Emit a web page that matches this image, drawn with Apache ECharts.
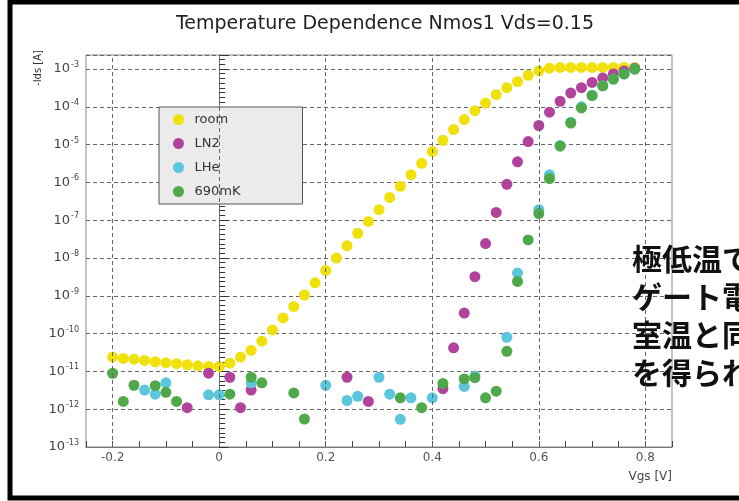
<!DOCTYPE html>
<html>
<head>
<meta charset="utf-8">
<title>Temperature Dependence Nmos1</title>
<script src="https://cdn.jsdelivr.net/npm/echarts@6/dist/echarts.min.js"></script>
<style>
html,body{margin:0;padding:0;background:#fff;}
#main{width:739px;height:501px;}
</style>
</head>
<body>
<div id="main"></div>
<script>
// Vgs [V] / -Ids [A] 読み取り値
var roomVgs = [-0.2,-0.18,-0.16,-0.14,-0.12,-0.1,-0.08,-0.06,-0.04,-0.02,0,0.02,0.04,0.06,0.08,0.1,0.12,0.14,0.16,0.18,
	0.2,0.22,0.24,0.26,0.28,0.3,0.32,0.34,0.36,0.38,0.4,0.42,0.44,0.46,0.48,0.5,0.52,0.54,0.56,0.58,
	0.6,0.62,0.64,0.66,0.68,0.7,0.72,0.74,0.76,0.78];
var roomIds = [2.4e-11,2.2e-11,2.1e-11,1.95e-11,1.8e-11,1.7e-11,1.6e-11,1.5e-11,1.4e-11,1.35e-11,1.35e-11,1.65e-11,2.4e-11,3.6e-11,6.3e-11,1.25e-10,2.6e-10,5.2e-10,1.05e-9,2.2e-9,
	4.7e-9,1.0e-8,2.1e-8,4.5e-8,9.3e-8,1.9e-7,4.0e-7,7.9e-7,1.6e-6,3.2e-6,6.6e-6,1.3e-5,2.5e-5,4.6e-5,7.9e-5,1.26e-4,2.1e-4,3.2e-4,4.6e-4,6.8e-4,
	8.9e-4,1.05e-3,1.1e-3,1.1e-3,1.1e-3,1.1e-3,1.1e-3,1.1e-3,1.1e-3,1.1e-3];

var ln2Vgs = [-0.06,-0.02,0.02,0.04,0.06,0.24,0.28,0.42,0.44,0.46,0.48,0.5,0.52,0.54,0.56,0.58,0.6,0.62,0.64,0.66,0.68,0.7,0.72,0.74,0.76,0.78];
var ln2Ids = [1.1e-12,9e-12,7e-12,1.1e-12,3.2e-12,7e-12,1.6e-12,3.5e-12,4.2e-11,3.5e-10,3.2e-9,2.4e-8,1.6e-7,8.9e-7,3.5e-6,1.2e-5,3.2e-5,7.2e-5,1.4e-4,2.3e-4,3.2e-4,4.4e-4,5.8e-4,7.4e-4,8.9e-4,1.05e-3];

var lheVgs = [-0.14,-0.12,-0.1,-0.02,0,0.06,0.2,0.24,0.26,0.3,0.32,0.34,0.36,0.4,0.46,0.48,0.54,0.56,0.6,0.62,0.64,0.66,0.68,0.7,0.72,0.74,0.76,0.78];
var lheIds = [3.2e-12,2.5e-12,5e-12,2.4e-12,2.4e-12,5e-12,4.3e-12,1.7e-12,2.2e-12,7e-12,2.5e-12,5.4e-13,2e-12,2e-12,4e-12,7.6e-12,8e-11,4e-9,1.9e-7,1.6e-6,9.5e-6,3.9e-5,1e-4,2e-4,3.6e-4,5.4e-4,7.4e-4,1e-3];

var mkVgs = [-0.2,-0.18,-0.16,-0.12,-0.1,-0.08,0.02,0.06,0.08,0.14,0.16,0.34,0.38,0.42,0.46,0.48,0.5,0.52,0.54,0.56,0.58,0.6,0.62,0.64,0.66,0.68,0.7,0.72,0.74,0.76,0.78];
var mkIds = [8.9e-12,1.6e-12,4.3e-12,4.2e-12,2.8e-12,1.6e-12,2.5e-12,7e-12,5e-12,2.7e-12,5.5e-13,2e-12,1.1e-12,4.8e-12,6.3e-12,6.8e-12,2e-12,3e-12,3.4e-11,2.4e-9,3e-8,1.5e-7,1.26e-6,9.1e-6,3.7e-5,9.3e-5,2e-4,3.6e-4,5.4e-4,7.4e-4,1e-3];

var xTicks = [-0.2, 0, 0.2, 0.4, 0.6, 0.8];
var seriesNames = ['room', 'LN2', 'LHe', '690mK'];
var colors = ['#f0e10c', '#b2439c', '#5cc6dc', '#4fa84a'];
var noteLines = ['極低温で', 'ゲート電', '室温と同', 'を得られ'];

// 縦軸は log10(Ids) で描く
function pairs(xs, ys) {
	var out = [];
	for (var i = 0; i < xs.length; i++) {
		out.push([xs[i], Math.log(ys[i]) / Math.LN10]);
	}
	return out;
}

function makeScatter(idx, xs, ys) {
	return {
		name: seriesNames[idx],
		type: 'scatter',
		symbol: 'circle',
		symbolSize: 11,
		z: 3,
		itemStyle: { color: colors[idx], opacity: 1 },
		data: pairs(xs, ys)
	};
}

var gridDash = { color: '#666', width: 1, type: [4, 3] };

var noteGraphics = [];
for (var n = 0; n < noteLines.length; n++) {
	noteGraphics.push({
		type: 'text',
		left: 632,
		top: 244 + n * 38,
		style: {
			text: noteLines[n],
			font: 'bold 30px "Noto Sans CJK JP"',
			fill: '#111'
		},
		z: 10
	});
}

var option = {
	animation: false,
	title: {
		text: 'Temperature Dependence Nmos1 Vds=0.15',
		left: 380,
		top: 10,
		textAlign: 'center',
		textStyle: { fontFamily: 'DejaVu Sans', fontSize: 19, fontWeight: 'normal', color: '#222' }
	},
	legend: {
		data: seriesNames,
		orient: 'vertical',
		left: 159,
		top: 107,
		itemWidth: 22,
		itemHeight: 11,
		itemGap: 11,
		padding: [6, 62, 6, 14],
		backgroundColor: '#ebebeb',
		borderColor: '#555',
		borderWidth: 1,
		borderRadius: 0,
		textStyle: { fontFamily: 'DejaVu Sans', fontSize: 13, color: '#333' }
	},
	grid: {
		left: 86, right: 67, top: 55, bottom: 54,
		show: true, borderColor: '#888', borderWidth: 1
	},
	xAxis: {
		type: 'value',
		min: -0.25, max: 0.85, interval: 0.05,
		axisLine: { lineStyle: { color: '#777' } },
		axisTick: { inside: true, length: 6, lineStyle: { color: '#444' } },
		splitLine: { show: false },
		axisLabel: {
			margin: 5,
			fontFamily: 'DejaVu Sans', fontSize: 12, color: '#555',
			formatter: function(v) {
				for (var i = 0; i < xTicks.length; i++) {
					if (Math.abs(v - xTicks[i]) < 1e-6) return String(xTicks[i]);
				}
				return '';
			}
		}
	},
	yAxis: {
		type: 'value',
		min: -13, max: -2.63, interval: 1,
		axisLine: { show: true, lineStyle: { color: '#777' } },
		axisTick: { show: true, inside: true, length: 9, lineStyle: { color: '#333' } },
		minorTick: { show: true, inside: true, splitNumber: 8, length: 6, lineStyle: { color: '#333', width: 1 } },
		splitLine: { show: true, lineStyle: gridDash },
		axisLabel: {
			margin: 7,
			color: '#444',
			showMaxLabel: false,
			formatter: function(v) {
				if (Math.abs(v - Math.round(v)) > 1e-6) return '';
				return '{b|10}{s|' + Math.round(v) + '}';
			},
			rich: {
				b: { fontFamily: 'DejaVu Sans', fontSize: 13, color: '#444' },
				s: { fontFamily: 'DejaVu Sans', fontSize: 8, color: '#444', verticalAlign: 'top', padding: [0, 0, 8, 1] }
			}
		}
	},
	graphic: [
		{ type: 'rect', shape: { x: 10, y: 2, width: 800, height: 496 }, style: { fill: 'none', stroke: '#000', lineWidth: 5 }, z: 20 },
		{ type: 'text', x: 38, y: 68, rotation: Math.PI / 2, style: { text: '-Ids [A]', font: '10px "DejaVu Sans"', fill: '#333', align: 'center', verticalAlign: 'middle' } },
		{ type: 'text', x: 672, y: 477, style: { text: 'Vgs [V]', font: '12px "DejaVu Sans"', fill: '#444', align: 'right', verticalAlign: 'middle' } }
	].concat(noteGraphics),
	series: [
		{
			type: 'scatter', data: [], z: 1, silent: true,
			markLine: {
				silent: true, symbol: ['none', 'none'], label: { show: false },
				lineStyle: gridDash,
				data: xTicks.map(function(v) { return { xAxis: v }; })
			}
		},
		makeScatter(0, roomVgs, roomIds),
		makeScatter(1, ln2Vgs, ln2Ids),
		makeScatter(2, lheVgs, lheIds),
		makeScatter(3, mkVgs, mkIds)
	]
};

var chart = echarts.init(document.getElementById('main'));
chart.setOption(option);
</script>
</body>
</html>
